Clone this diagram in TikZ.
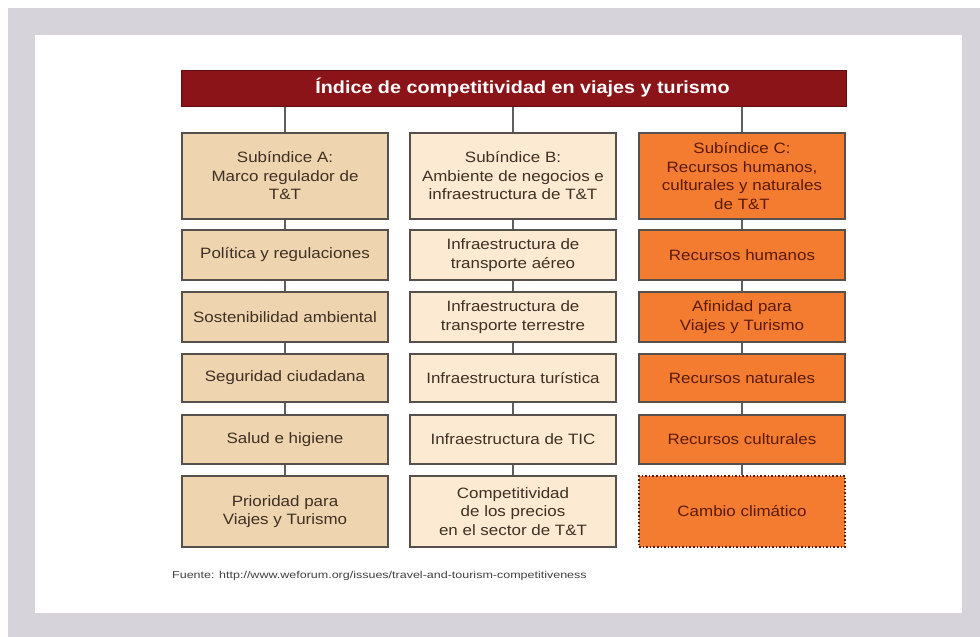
\documentclass[tikz,border=0pt]{standalone}
\usepackage{fontspec}
\setmainfont[FakeStretch=1.13]{Liberation Sans}
\newfontfamily\srcfont[FakeStretch=1.25]{Liberation Sans}
\definecolor{frameg}{HTML}{D6D3DA}
\definecolor{titler}{HTML}{8A1418}
\definecolor{fillA}{HTML}{EFD4B0}
\definecolor{fillB}{HTML}{FCEBD2}
\definecolor{fillC}{HTML}{F47C30}
\definecolor{edgeg}{HTML}{55504C}
\definecolor{txtA}{HTML}{3E3024}
\definecolor{txtC}{HTML}{5A1A08}
\definecolor{lineg}{HTML}{5E5E62}
\tikzset{
  box/.style={draw=edgeg, line width=1.6pt, minimum width=206pt, align=center,
    inner sep=2pt, font=\fontsize{15}{18.5}\selectfont},
  boxA/.style={box, fill=fillA, text=txtA},
  boxB/.style={box, fill=fillB, text=txtA},
  boxC/.style={box, fill=fillC, text=txtC},
  conn/.style={draw=lineg, line width=1.6pt},
}
\begin{document}
\begin{tikzpicture}[x=1pt,y=-1pt]
\useasboundingbox (0,0) rectangle (980,637);
\fill[white] (0,0) rectangle (980,637);
\fill[frameg] (8,8) rectangle (980,637);
\fill[white] (35,35) rectangle (962,613);
% title
\node[fill=titler, draw=titler!70!black, line width=1pt, minimum width=665pt, minimum height=36pt,
  text=white, font=\fontsize{17.5}{20}\selectfont\bfseries] (title) at (513.5,88)
  {\hspace*{18pt}Índice de competitividad en viajes y turismo};
% column A
\node[boxA, minimum height=86pt] (A0) at (285,176) {Subíndice A:\\Marco regulador de\\T\&T};
\node[boxA, minimum height=50pt] (A1) at (285,255) {Política y regulaciones};
\node[boxA, minimum height=50pt] (A2) at (285,317) {Sostenibilidad ambiental};
\node[boxA, minimum height=48pt] (A3) at (285,378) {Seguridad ciudadana};
\node[boxA, minimum height=49pt] (A4) at (285,439.5) {Salud e higiene};
\node[boxA, minimum height=71pt] (A5) at (285,511.5) {Prioridad para\\Viajes y Turismo};
% column B
\node[boxB, minimum height=86pt] (B0) at (513,176) {Subíndice B:\\Ambiente de negocios e\\infraestructura de T\&T};
\node[boxB, minimum height=50pt] (B1) at (513,255) {Infraestructura de\\transporte aéreo};
\node[boxB, minimum height=50pt] (B2) at (513,317) {Infraestructura de\\transporte terrestre};
\node[boxB, minimum height=48pt] (B3) at (513,378) {Infraestructura turística};
\node[boxB, minimum height=49pt] (B4) at (513,439.5) {Infraestructura de TIC};
\node[boxB, minimum height=71pt] (B5) at (513,511.5) {Competitividad\\de los precios\\en el sector de T\&T};
% column C
\node[boxC, minimum height=86pt] (C0) at (742,176) {Subíndice C:\\Recursos humanos,\\culturales y naturales\\de T\&T};
\node[boxC, minimum height=50pt] (C1) at (742,255) {Recursos humanos};
\node[boxC, minimum height=50pt] (C2) at (742,317) {Afinidad para\\Viajes y Turismo};
\node[boxC, minimum height=48pt] (C3) at (742,378) {Recursos naturales};
\node[boxC, minimum height=49pt] (C4) at (742,439.5) {Recursos culturales};
\node[boxC, minimum height=71pt, dotted, draw=txtC] (C5) at (742,511.5) {Cambio climático};
% connectors
\foreach \c in {A,B,C}{
  \draw[conn] (\c0.north) -- (\c0.north |- title.south);
  \draw[conn] (\c0.south) -- (\c1.north);
  \draw[conn] (\c1.south) -- (\c2.north);
  \draw[conn] (\c2.south) -- (\c3.north);
  \draw[conn] (\c3.south) -- (\c4.north);
  \draw[conn] (\c4.south) -- (\c5.north);
}
% source
\node[anchor=west, inner sep=0pt, text=black!75, font=\srcfont\fontsize{10}{12}\selectfont] (src) at (172,576)
  {Fuente: http://www.weforum.org/issues/travel-and-tourism-competitiveness};
\end{tikzpicture}
\end{document}
